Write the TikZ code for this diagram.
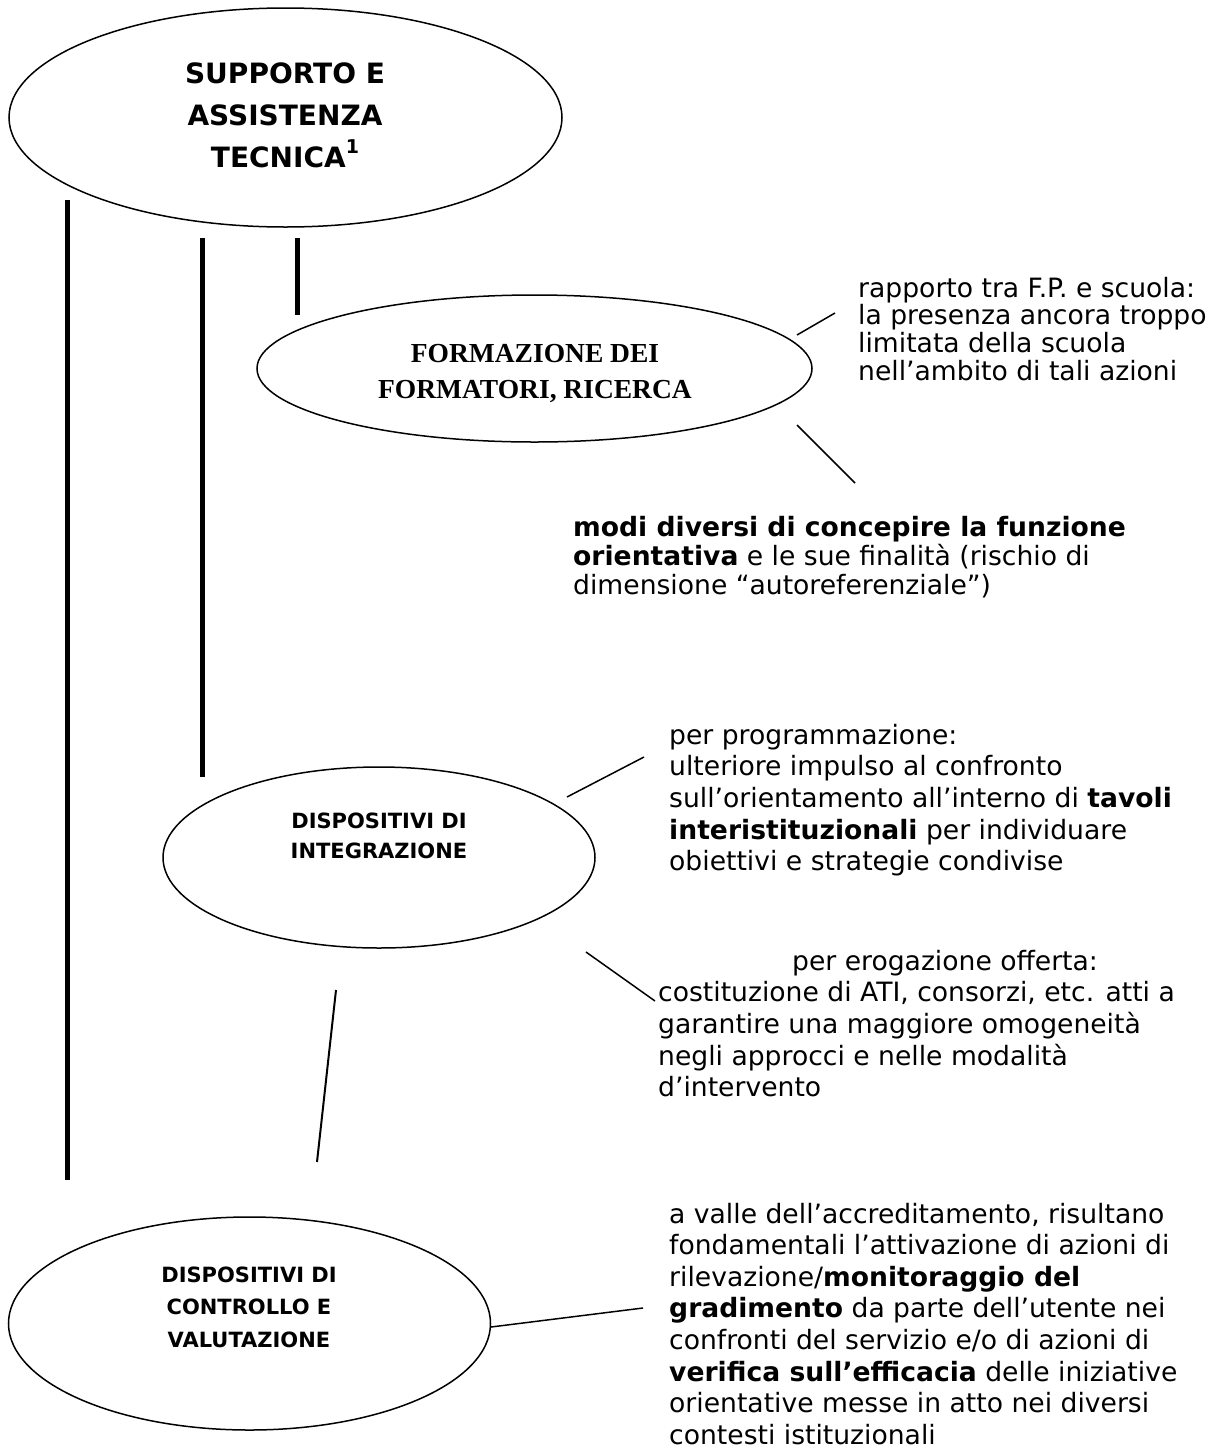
\documentclass[tikz,border=0pt]{standalone}
\usepackage{fontspec}
\setmainfont{DejaVu Sans}
\newfontfamily\tnr{Liberation Serif}
\usetikzlibrary{shapes.geometric}
\newcommand\cblock[2]{\vtop{\baselineskip=#1\lineskiplimit=-100pt\lineskip=0pt\halign{\hfil##\hfil\cr#2\crcr}}}
\newcommand\lblock[2]{\vtop{\baselineskip=#1\lineskiplimit=-100pt\lineskip=0pt\halign{##\hfil\cr#2\crcr}}}
\begin{document}
\begin{tikzpicture}[x=1pt,y=-1pt,
  ell/.style={ellipse, draw, line width=1.5pt, inner sep=0pt},
  bar/.style={line width=5pt},
  link/.style={line width=1.5pt},
  body/.style={inner sep=0pt, anchor=base west, font=\fontsize{26.6}{30}\selectfont},
  title/.style={inner sep=0pt, anchor=base}
]
\useasboundingbox (0,0) rectangle (1215,1454);
\fill[white] (0,0) rectangle (1215,1454);

% ellipses
\node[ell, minimum width=553pt, minimum height=219pt] (sup) at (285.5,117.5) {};
\node[ell, minimum width=555pt, minimum height=147pt] (form) at (534.5,368.5) {};
\node[ell, minimum width=432pt, minimum height=181pt] (integ) at (379,857.5) {};
\node[ell, minimum width=482pt, minimum height=213pt] (contr) at (249.5,1323.5) {};

% ellipse texts
\node[title, font=\bfseries\fontsize{28}{28}\selectfont] (supt) at (285,83)
  {\cblock{42pt}{SUPPORTO E\cr ASSISTENZA\cr TECNICA\raisebox{14pt}{\fontsize{19}{19}\selectfont 1}}};
\node[title, font=\tnr\bfseries\fontsize{27.5}{27.5}\selectfont] (formt) at (535,362)
  {\cblock{36pt}{FORMAZIONE DEI\cr FORMATORI, RICERCA}};
\node[title, font=\bfseries\fontsize{21}{21}\selectfont] (integt) at (379,828)
  {\cblock{30pt}{DISPOSITIVI DI\cr INTEGRAZIONE}};
\node[title, font=\bfseries\fontsize{21}{21}\selectfont] (contrt) at (249,1282)
  {\cblock{32.5pt}{DISPOSITIVI DI\cr CONTROLLO E\cr VALUTAZIONE}};

% side texts
\node[body] (t1) at (858,297) {\lblock{27.8pt}{rapporto tra F.P. e scuola:\cr
la presenza ancora troppo\cr limitata della scuola\cr nell’ambito di tali azioni}};
\node[body] (t2) at (573,536) {\lblock{29pt}{\textbf{modi diversi di concepire la funzione}\cr
\textbf{orientativa} e le sue finalità (rischio di\cr dimensione “autoreferenziale”)}};
\node[body] (t3) at (669,744) {\lblock{31.7pt}{per programmazione:\cr
ulteriore impulso al confronto\cr sull’orientamento all’interno di \textbf{tavoli}\cr
\textbf{interistituzionali} per individuare\cr obiettivi e strategie condivise}};
\node[body] (t4) at (658,970) {\lblock{31.7pt}{\hspace*{134pt}per erogazione offerta:\cr
costituzione di ATI, consorzi, etc. atti a\cr garantire una maggiore omogeneità\cr
negli approcci e nelle modalità\cr d’intervento}};
\node[body] (t5) at (669,1223) {\lblock{31.6pt}{a valle dell’accreditamento, risultano\cr
fondamentali l’attivazione di azioni di\cr rilevazione/\textbf{monitoraggio del}\cr
\textbf{gradimento} da parte dell’utente nei\cr confronti del servizio e/o di azioni di\cr
\textbf{verifica sull’efficacia} delle iniziative\cr orientative messe in atto nei diversi\cr
contesti istituzionali}};

% bar end points
\coordinate (b1s) at (67.5,200);  \coordinate (b1e) at (67.5,1180);
\coordinate (b2s) at (202,238);   \coordinate (b2e) at (202,777);
\coordinate (b3s) at (297,238);   \coordinate (b3e) at (297,315);
\coordinate (s1) at (336,990);    \coordinate (s2) at (317,1162);
\draw[bar] (b1s) -- (b1e);
\draw[bar] (b2s) -- (b2e);
\draw[bar] (b3s) -- (b3e);
\draw[line width=2pt] (s1) -- (s2);

% connectors
\coordinate (f1) at (797,335);  \coordinate (f1e) at (835,313);
\coordinate (f2) at (797,425);  \coordinate (f2e) at (855,483);
\coordinate (i1) at (567,797);  \coordinate (i1e) at (644,757);
\coordinate (i2) at (586,952);  \coordinate (i2e) at (655,1001);
\coordinate (c1) at (491,1327); \coordinate (c1e) at (643,1308);
\draw[link] (f1) -- (f1e);
\draw[link] (f2) -- (f2e);
\draw[link] (i1) -- (i1e);
\draw[link] (i2) -- (i2e);
\draw[link] (c1) -- (c1e);
\end{tikzpicture}
\end{document}
